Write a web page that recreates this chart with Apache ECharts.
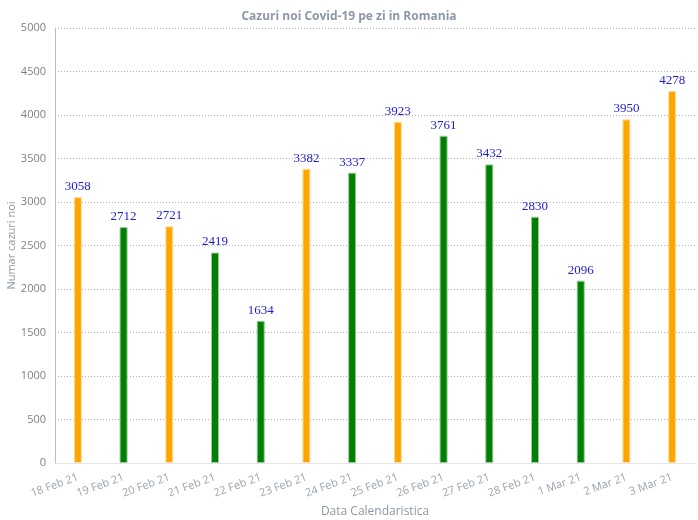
<!DOCTYPE html>
<html><head><meta charset="utf-8">
<script src="https://cdn.jsdelivr.net/npm/echarts@6/dist/echarts.min.js"></script>
<style>html,body{margin:0;padding:0;background:#fff}#c{width:698px;height:520px}</style>
</head><body><div id="c"></div>
<script>
const categories = ["18 Feb 21","19 Feb 21","20 Feb 21","21 Feb 21","22 Feb 21","23 Feb 21","24 Feb 21","25 Feb 21","26 Feb 21","27 Feb 21","28 Feb 21","1 Mar 21","2 Mar 21","3 Mar 21"];
const cases = [3058,2712,2721,2419,1634,3382,3337,3923,3761,3432,2830,2096,3950,4278];
const highlighted = [1,0,1,0,0,1,0,1,0,0,0,0,1,1];
const yTicks = {min:0, max:5000, interval:500};

const chart = echarts.init(document.getElementById('c'), null, {renderer:'canvas'});
chart.setOption({
  animation:false,
  title:{text:'Cazuri noi Covid-19 pe zi in Romania', left:'center', top:6,
    textStyle:{fontFamily:'Open Sans', fontSize:12, fontWeight:'bold', color:'#8d97a5'}},
  grid:{left:55, right:3, top:28, bottom:57, containLabel:false, outerBoundsMode:'none'},
  xAxis:{type:'category', data:categories,
    name:'Data Calendaristica', nameLocation:'middle', nameGap:43, nameMoveOverlap:false,
    nameTextStyle:{fontFamily:'Open Sans', fontSize:12, color:'#8d97a5'},
    axisLine:{lineStyle:{color:'#e6e6e6'}}, axisTick:{show:false},
    axisLabel:{rotate:20, interval:0, fontFamily:'Open Sans', fontSize:11, color:'#9aa3b0', margin:14}},
  yAxis:{type:'value', min:yTicks.min, max:yTicks.max, interval:yTicks.interval,
    name:'Numar cazuri noi', nameLocation:'middle', nameGap:38, nameMoveOverlap:false,
    nameTextStyle:{fontFamily:'Open Sans', fontSize:11, color:'#8d97a5'},
    axisLine:{show:true, lineStyle:{color:'#bdbdbd'}}, axisTick:{show:false},
    axisLabel:{fontFamily:'Open Sans', fontSize:11, color:'#808080', margin:9, formatter:v=>String(v)},
    splitLine:{lineStyle:{color:'#b0b0b0', type:[1,2], width:1}}},
  series:[{type:'bar', barWidth:8,
    data:cases.map((v,i)=>({value:v, itemStyle:{color: highlighted[i] ? '#ffa500' : '#008000',
      borderColor: highlighted[i] ? '#ffe3a8' : '#9cc99c', borderWidth:1}})),
    label:{show:true, position:'top', distance:4, fontFamily:'Liberation Serif', fontSize:13, color:'#1a1adb'}}]
});
</script></body></html>
